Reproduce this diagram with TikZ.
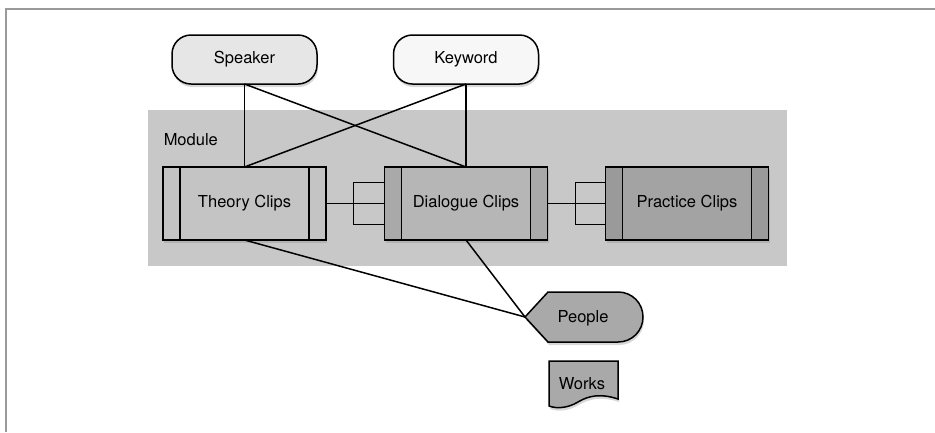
\documentclass[tikz,border=0pt]{standalone}
\usepackage{fontspec}
\setmainfont{TeX Gyre Heros}
\usetikzlibrary{shadows,calc}
\definecolor{framecol}{HTML}{9A9A9A}
\definecolor{modcol}{HTML}{C8C8C8}
\definecolor{spkcol}{HTML}{E6E6E6}
\definecolor{kwcol}{HTML}{F7F7F7}
\definecolor{thcol}{HTML}{C4C4C4}
\definecolor{dlcol}{HTML}{B6B6B6}
\definecolor{dlbar}{HTML}{A9A9A9}
\definecolor{prcol}{HTML}{A3A3A3}
\definecolor{prbar}{HTML}{9A9A9A}
\definecolor{ppcol}{HTML}{A9A9A9}
\begin{document}
\begin{tikzpicture}[x=1pt,y=-1pt,
  font=\fontsize{16.5}{19}\selectfont,
  line width=1.5pt,
  shad/.style={drop shadow={opacity=0.3,shadow xshift=1pt,shadow yshift=-3pt}},
  pill/.style={draw, shad, rounded corners=19pt, minimum width=145pt, minimum height=49pt, outer sep=0pt},
  clipbox/.style={draw, shad, minimum width=163pt, minimum height=73pt, outer sep=0pt},
  plain/.style={inner sep=0pt}
]
\useasboundingbox (0,0) rectangle (935,432);
\fill[white] (0,0) rectangle (935,432);
\draw[framecol, line width=2pt] (6,432) -- (6,9) -- (935,9);

% module area
\fill[modcol] (148,110) rectangle (787,266);
\node[anchor=west, plain] (modlbl) at (163,140) {Module};

% top nodes
\node[pill, fill=spkcol] (spk) at (244.5,59.5) {Speaker};
\node[pill, fill=kwcol] (kw) at (466,59.5) {Keyword};

% clip boxes
\node[clipbox, fill=thcol] (th) at (244.5,203.5) {Theory Clips};
\filldraw[fill=thcol] (th.north west) rectangle ($(th.south west)+(17,0)$);
\filldraw[fill=thcol] (th.north east) rectangle ($(th.south east)+(-17,0)$);

\node[clipbox, fill=dlcol] (dl) at (466,203.5) {Dialogue Clips};
\filldraw[fill=dlbar] (dl.north west) rectangle ($(dl.south west)+(17,0)$);
\filldraw[fill=dlbar] (dl.north east) rectangle ($(dl.south east)+(-17,0)$);

\node[clipbox, fill=prcol] (pr) at (687,203.5) {Practice Clips};
\filldraw[fill=prbar] (pr.north west) rectangle ($(pr.south west)+(17,0)$);
\filldraw[fill=prbar] (pr.north east) rectangle ($(pr.south east)+(-17,0)$);

% connectors top
\draw (spk.south) -- (th.north);
\draw (spk.south) -- (dl.north);
\draw (kw.south) -- (dl.north);
\draw (kw.south) -- (th.north);

% fork connectors
\draw (th.east) -- (dl.west);
\draw ($(dl.west)+(0,-21)$) -- ($(dl.west)+(-31,-21)$) -- ($(dl.west)+(-31,21)$) -- ($(dl.west)+(0,21)$);
\draw (dl.east) -- (pr.west);
\draw ($(pr.west)+(0,-21)$) -- ($(pr.west)+(-30,-21)$) -- ($(pr.west)+(-30,21)$) -- ($(pr.west)+(0,21)$);

% people
\coordinate (ptip) at (525,317);
\draw[fill=ppcol, shad] (ptip) -- (548,292) -- (618,292)
  .. controls (632,292) and (643,303) .. (643,317)
  .. controls (643,331) and (632,342) .. (618,342) -- (548,342) -- cycle;
\node[plain] (people) at (583,318) {People};

\draw (th.south) -- (ptip);
\draw (dl.south) -- (ptip);

% works
\draw[fill=ppcol, shad] (549,406) -- (549,361) -- (618,361) -- (618,399)
  .. controls (600,393) and (588,396) .. (578,402)
  .. controls (568,408) and (557,409) .. (549,406) -- cycle;
\node[plain] (works) at (582,384) {Works};
\end{tikzpicture}
\end{document}
